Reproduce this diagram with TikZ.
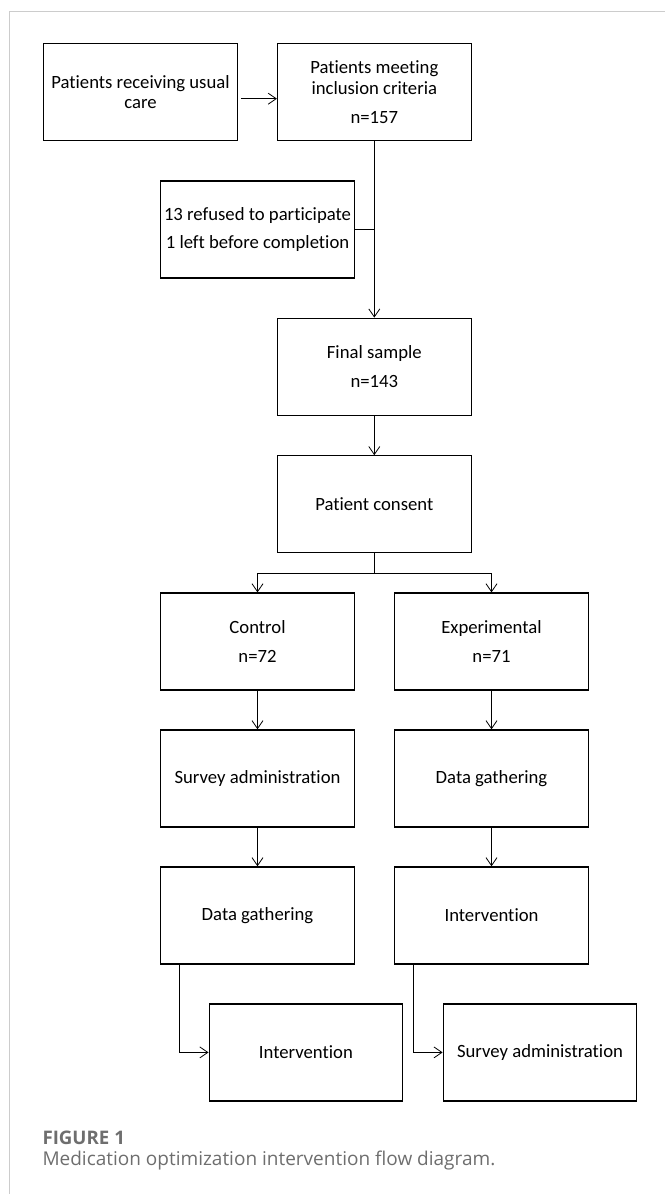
\documentclass[tikz,border=0pt]{standalone}
\usepackage{fontspec}
\setmainfont{Carlito}[Ligatures=NoCommon]
\newfontfamily\capfont{Open Sans}
\usetikzlibrary{arrows.meta, positioning}
\definecolor{framegray}{HTML}{CCCCCC}
\definecolor{capgray}{HTML}{6E6E6E}
\tikzset{
    box/.style = {rectangle, draw, line width=1.2pt, minimum width=193.6pt, minimum height=97pt, inner sep=0pt, align=center, font=\fontsize{18.7}{20.7}\selectfont},
    flow/.style = {-{Straight Barb[length=8pt, width=11pt]}, line width=0.8pt},
    link/.style = {line width=0.8pt}
}

\begin{document}
\begin{tikzpicture}[x=1pt, y=-1pt]
\useasboundingbox (0,0) rectangle (665,1194);
% frame
\draw[framegray, line width=1pt] (9.5,1194) |- (665,11.7);

% Top row
\node[box] (usual) at (140.5, 92.2) {Patients receiving usual\\care};
\node[box] (incl) at (374.3, 92.2) {Patients meeting\\inclusion criteria\\[8pt]n=157};

% Exclusions
\node[box] (refused) at (257.5, 229.5) {13 refused to participate\\[8pt]1 left before completion};

% Central column
\node[box] (final) at (374.3, 366.7) {Final sample\\[8pt]n=143};
\node[box] (consent) at (374.3, 504.3) {Patient consent};
\coordinate (split) at (374.3, 573);

% Control arm
\node[box] (control) at (257.5, 641.5) {Control\\[8pt]n=72};
\node[box] (surveyC) at (257.5, 778.4) {Survey administration};
\node[box] (dataC) at (257.5, 915.4) {Data gathering};
\node[box] (intervC) at (305.9, 1052.4) {Intervention};

% Experimental arm
\node[box] (exper) at (491.5, 641.5) {Experimental\\[8pt]n=71};
\node[box] (dataE) at (491.5, 778.4) {Data gathering};
\node[box] (intervE) at (491.5, 915.4) {Intervention};
\node[box] (surveyE) at (540, 1052.4) {Survey administration};

% usual -> incl
\draw[flow] ([xshift=3pt, yshift=-6.5pt]usual.east) -- ([yshift=-6.5pt]incl.west);
% incl -> final, refused joins
\draw[flow] (incl.south) -- (final.north);
\draw[link] (refused.east) -- (refused.east -| incl.south);

% final -> consent -> arms
\draw[flow] (final.south) -- (consent.north);
\draw[link] (consent.south) -- (split);
\draw[flow] (split) -| (control.north);
\draw[flow] (split) -| (exper.north);

% Control steps
\draw[flow] (control.south) -- (surveyC.north);
\draw[flow] (surveyC.south) -- (dataC.north);
\draw[flow] ([xshift=19.3pt]dataC.south west) |- (intervC.west);

% Experimental steps
\draw[flow] (exper.south) -- (dataE.north);
\draw[flow] (dataE.south) -- (intervE.north);
\draw[flow] ([xshift=19.4pt]intervE.south west) |- (surveyE.west);

% Caption
\node[anchor=base west, text=capgray, font=\capfont\bfseries\fontsize{18.7}{22}\selectfont, inner sep=0pt] (figlabel) at (42.3, 1144) {FIGURE 1};
\node[anchor=base west, text=capgray, font=\capfont\fontsize{19}{22}\selectfont, inner sep=0pt] (figcaption) at (42.3, 1165.7) {Medication optimization intervention flow diagram.};
\end{tikzpicture}
\end{document}
